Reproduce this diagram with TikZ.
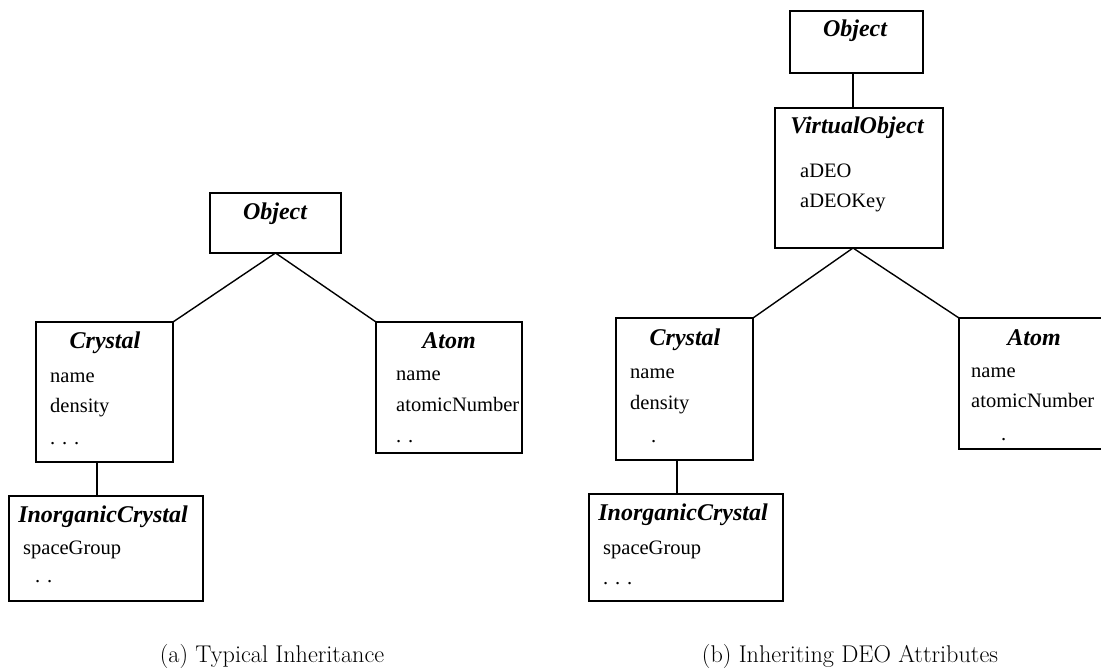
\documentclass[tikz,border=0pt]{standalone}
\usepackage{fontspec}
\newfontfamily\boxfont{Liberation Serif}
\begin{document}
\begin{tikzpicture}[x=1pt,y=-1pt,
  box/.style={draw, line width=1.6pt, inner sep=0pt, outer sep=0pt, anchor=north west},
  cls/.style={font=\boxfont\bfseries\itshape\fontsize{24}{24}\selectfont, anchor=base, inner sep=0pt},
  attr/.style={font=\boxfont\fontsize{20.5}{20.5}\selectfont, anchor=base west, inner sep=0pt},
  link/.style={line width=1.4pt},
  caption/.style={font=\fontsize{24.2}{24.2}\selectfont, anchor=base, inner sep=0pt}]
\useasboundingbox (0,0) rectangle (1101,669);
\clip (0,0) rectangle (1101,669);

% ---------- (a) typical inheritance ----------
\node[box, minimum width=131pt, minimum height=60pt] (LObj) at (210,193) {};
\node[cls] (LObjT) at (275,219) {Object};

\node[box, minimum width=137pt, minimum height=140pt] (LCry) at (36,322) {};
\node[cls] (LCryT) at (105,348) {Crystal};
\node[attr] (LCry1) at (50,382) {name};
\node[attr] (LCry2) at (50,412) {density};
\node[attr] (LCry3) at (50,444) {. . .};

\node[box, minimum width=146pt, minimum height=131pt] (LAtom) at (376,322) {};
\node[cls] (LAtomT) at (449,348) {Atom};
\node[attr] (LAtom1) at (396,380) {name};
\node[attr] (LAtom2) at (396,411) {atomicNumber};
\node[attr] (LAtom3) at (396,442) {. .};

\node[box, minimum width=194pt, minimum height=105pt] (LInorg) at (9,496) {};
\node[cls] (LInorgT) at (103,522) {InorganicCrystal};
\node[attr] (LInorg1) at (23,554) {spaceGroup};
\node[attr] (LInorg2) at (35,582) {. .};

\draw[link] (LObj.south) -- (LCry.north east);
\draw[link] (LObj.south) -- (LAtom.north west);
\coordinate (LCryFoot) at (97,462);
\draw[link] (LCryFoot) -- (LCryFoot |- LInorg.north);

\node[caption] (capA) at (272,662) {(a) Typical Inheritance};

% ---------- (b) inheriting DEO attributes ----------
\node[box, minimum width=133pt, minimum height=62pt] (RObj) at (790,11) {};
\node[cls] (RObjT) at (855,37) {Object};

\node[box, minimum width=168pt, minimum height=140pt] (RVirt) at (775,108) {};
\node[cls] (RVirtT) at (857,133) {VirtualObject};
\node[attr] (RVirt1) at (800,177) {aDEO};
\node[attr] (RVirt2) at (800,207) {aDEOKey};

\node[box, minimum width=137pt, minimum height=142pt] (RCry) at (616,318) {};
\node[cls] (RCryT) at (685,345) {Crystal};
\node[attr] (RCry1) at (630,378) {name};
\node[attr] (RCry2) at (630,409) {density};
\node[attr] (RCry3) at (651,442) {.};

\node[box, minimum width=150pt, minimum height=131pt] (RAtom) at (959,318) {};
\node[cls] (RAtomT) at (1034,345) {Atom};
\node[attr] (RAtom1) at (971,377) {name};
\node[attr] (RAtom2) at (971,407) {atomicNumber};
\node[attr] (RAtom3) at (1001,440) {.};

\node[box, minimum width=194pt, minimum height=107pt] (RInorg) at (589,494) {};
\node[cls] (RInorgT) at (683,520) {InorganicCrystal};
\node[attr] (RInorg1) at (603,554) {spaceGroup};
\node[attr] (RInorg2) at (603,584) {. . .};

\coordinate (RObjFoot) at (853,73);
\draw[link] (RObjFoot) -- (RObjFoot |- RVirt.north);
\coordinate (RVirtFoot) at (853,248);
\draw[link] (RVirtFoot) -- (RCry.north east);
\draw[link] (RVirtFoot) -- (RAtom.north west);
\coordinate (RCryFoot) at (677,460);
\draw[link] (RCryFoot) -- (RCryFoot |- RInorg.north);

\node[caption] (capB) at (850,662) {(b) Inheriting DEO Attributes};
\end{tikzpicture}
\end{document}
